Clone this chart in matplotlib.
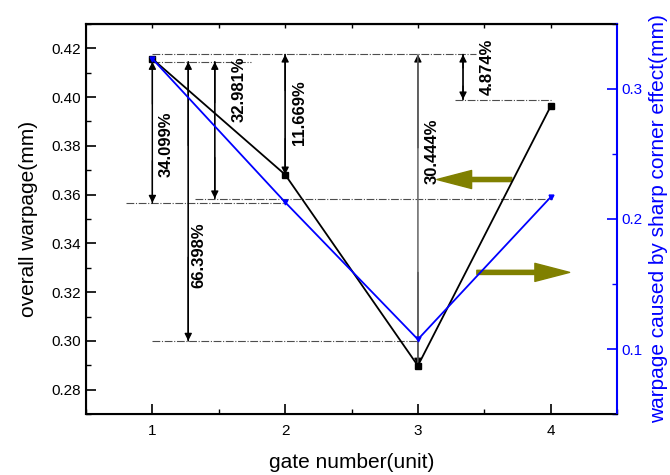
import matplotlib
matplotlib.use("Agg")
import matplotlib.pyplot as plt
from matplotlib.ticker import MultipleLocator

plt.rcParams['font.family'] = ['Liberation Sans', 'DejaVu Sans']

# ---- data ----
gates = [1, 2, 3, 4]
overall_warpage = [0.4157, 0.3682, 0.2898, 0.3962]
corner_warpage = [0.3232, 0.2129, 0.1074, 0.2168]

x_ticks = [1, 2, 3, 4]
left_ticks = [0.28, 0.30, 0.32, 0.34, 0.36, 0.38, 0.40, 0.42]
right_ticks = [0.1, 0.2, 0.3]

# reference (dash-dot) lines: y, x start, x end
ref_y = [0.4175, 0.4145, 0.3584, 0.3566, 0.300, 0.399]
ref_x0 = [1.0, 1.0, 1.32, 0.80, 1.0, 3.28]
ref_x1 = [3.44, 1.74, 4.01, 2.0, 3.0, 4.01]

# double arrows with percentage labels
ann_labels = ['34.099%', '66.398%', '32.981%', '11.669%', '30.444%', '4.874%']
ann_x = [1.0, 1.27, 1.47, 2.0, 3.0, 3.34]
ann_y0 = [0.4145, 0.4145, 0.4145, 0.4175, 0.4175, 0.4175]
ann_y1 = [0.3566, 0.300, 0.3584, 0.3682, 0.2898, 0.399]
lab_x = [1.10, 1.35, 1.65, 2.11, 3.105, 3.52]
lab_y = [0.3805, 0.335, 0.4031, 0.3936, 0.3777, 0.4125]
ann_colors = ['k', 'k', 'k', 'k', '0.45', 'k']

# olive pointer arrows: tail x, tip x, y
olive_tail = [3.707, 3.444]
olive_tip = [3.143, 4.143]
olive_y = [0.3662, 0.3281]

fig = plt.figure(figsize=(6.7, 4.75), dpi=100)
ax = fig.add_axes([0.1284, 0.1284, 0.7925, 0.8211])
ax2 = ax.twinx()

ax.set_xlim(0.5, 4.5)
ax.set_ylim(0.27, 0.43)
ax2.set_ylim(0.05, 0.35)

ax.plot(gates, overall_warpage, color='k', lw=1.3, marker='s', ms=4, zorder=5)
ax2.plot(gates, corner_warpage, color='#0000ff', lw=1.3, marker='v', ms=3.5, zorder=5)

for y, x0, x1 in zip(ref_y, ref_x0, ref_x1):
    ax.plot([x0, x1], [y, y], color='0.3', lw=0.8, ls=(0, (7, 1.5, 1, 1.5)))

for lab, x, y0, y1, lx, ly, c in zip(ann_labels, ann_x, ann_y0, ann_y1, lab_x, lab_y, ann_colors):
    # shaft
    ax.annotate('', xy=(x, y0), xytext=(x, y1),
                arrowprops=dict(arrowstyle='-', color=c, lw=0.9,
                                shrinkA=0, shrinkB=0))
    # black heads at both ends
    for ya, yb in ((y0, y1), (y1, y0)):
        yb_short = ya + (yb - ya) * 0.3
        ax.annotate('', xy=(x, ya), xytext=(x, yb_short),
                    arrowprops=dict(arrowstyle='-|>', color='k', lw=0.9,
                                    mutation_scale=11, shrinkA=0, shrinkB=0))
    ax.annotate('', xy=(x, y0), xytext=(x, y1),
                arrowprops=dict(arrowstyle='-', color=c, lw=0.9,
                                shrinkA=0, shrinkB=0))
    ax.text(lx, ly, lab, rotation=90, ha='center', va='center',
            fontsize=12, fontweight='bold')

for xt, xh, y in zip(olive_tail, olive_tip, olive_y):
    ax.annotate('', xy=(xh, y), xytext=(xt, y),
                arrowprops=dict(facecolor='#808000', edgecolor='#808000',
                                width=3, headwidth=13, headlength=25, shrink=0))

ax.set_xticks(x_ticks)
ax.set_yticks(left_ticks)
ax.set_yticklabels([f'{v:.2f}' for v in left_ticks])
ax.xaxis.set_minor_locator(MultipleLocator(0.5))
ax.yaxis.set_minor_locator(MultipleLocator(0.01))
ax.tick_params(axis='both', which='major', direction='in', length=7, width=1.2,
               labelsize=11)
ax.tick_params(axis='both', which='minor', direction='in', length=3.5, width=1)
ax.tick_params(axis='x', which='major', pad=7)

# top axis: short ticks only
axt = ax.secondary_xaxis('top')
axt.set_xticks([1, 1.5, 2, 2.5, 3, 3.5, 4])
axt.tick_params(axis='x', which='major', direction='in', length=3, width=1,
                labeltop=False)
axt.spines['top'].set_linewidth(1.5)

ax2.set_yticks(right_ticks)
ax2.set_yticklabels([f'{v:.1f}' for v in right_ticks])
ax2.yaxis.set_minor_locator(MultipleLocator(0.05))
ax2.tick_params(axis='y', which='major', direction='in', length=7, width=1.2,
                labelsize=11, colors='#0000ff')
ax2.tick_params(axis='y', which='minor', direction='in', length=3.5, width=1,
                colors='#0000ff')

for s in ['left', 'bottom', 'top']:
    ax.spines[s].set_linewidth(1.5)
ax2.spines['right'].set_color('#0000ff')
ax2.spines['right'].set_linewidth(1.5)
ax.spines['right'].set_visible(False)

ax.set_xlabel('gate number(unit)', fontsize=15, labelpad=11)
ax.set_ylabel('overall warpage(mm)', fontsize=15, labelpad=10)
ax2.set_ylabel('warpage caused by sharp corner effect(mm)', fontsize=15,
               color='#0000ff', labelpad=4)

fig.savefig('out.png', dpi=100)
